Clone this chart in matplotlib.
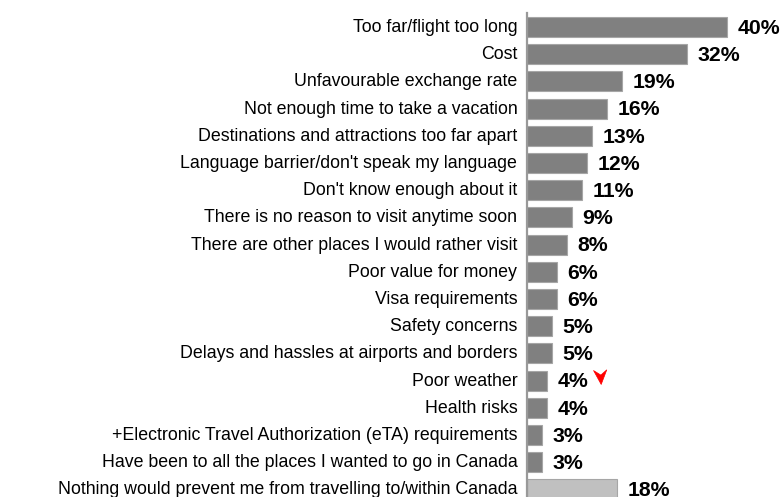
import numpy as np
import matplotlib
matplotlib.use("Agg")
import matplotlib.pyplot as plt
from matplotlib.path import Path
from matplotlib.transforms import ScaledTranslation

plt.rcParams['font.family'] = ['Liberation Sans', 'DejaVu Sans']

reasons = [
    "Too far/flight too long",
    "Cost",
    "Unfavourable exchange rate",
    "Not enough time to take a vacation",
    "Destinations and attractions too far apart",
    "Language barrier/don't speak my language",
    "Don't know enough about it",
    "There is no reason to visit anytime soon",
    "There are other places I would rather visit",
    "Poor value for money",
    "Visa requirements",
    "Safety concerns",
    "Delays and hassles at airports and borders",
    "Poor weather",
    "Health risks",
    "+Electronic Travel Authorization (eTA) requirements",
    "Have been to all the places I wanted to go in Canada",
    "Nothing would prevent me from travelling to/within Canada",
]
shares = [40, 32, 19, 16, 13, 12, 11, 9, 8, 6, 6, 5, 5, 4, 4, 3, 3, 18]
flagged = "Poor weather"

W, H = 782, 497
fig = plt.figure(figsize=(W / 100, H / 100), dpi=100)
ax = fig.add_axes([527 / W, 0, 1 - 527 / W, 1])

y = np.arange(len(reasons))
colors = ['#808080'] * (len(reasons) - 1) + ['#c0c0c0']
ax.barh(y, shares, height=0.735, color=colors, edgecolor='#a6a6a6', linewidth=0.8)

for yi, v in zip(y, shares):
    ax.annotate(f"{v}%", (v, yi), xytext=(7.5, -1), textcoords='offset points',
                ha='left', va='center', fontsize=15.3, fontweight='bold', color='black')

# small red arrow beside the flagged value
arrow = Path([(-1, 1), (0.1, -1), (0.9, 1.1), (0.05, 0.35), (-1, 1)],
             [Path.MOVETO, Path.LINETO, Path.LINETO, Path.LINETO, Path.CLOSEPOLY])
fi = reasons.index(flagged)
ax.plot([shares[fi]], [fi], linestyle='none', marker=arrow, markersize=11,
        color='red', markeredgewidth=0.5,
        transform=ax.transData + ScaledTranslation(53 / 100, 4 / 100, fig.dpi_scale_trans))

ax.set_xlim(0, (W - 527) / 5)
top = -27 / 27.2
bottom = (H - 27) / 27.2
ax.set_ylim(bottom, top)

ax.set_yticks(y)
ax.set_yticklabels(reasons, fontsize=12.8)
ax.tick_params(axis='y', length=0, pad=7)
# labels sit a touch above bar centres
for lbl in ax.get_yticklabels():
    lbl.set_transform(lbl.get_transform() + ScaledTranslation(0, 1.5 / 100, fig.dpi_scale_trans))
ax.set_xticks([])
for s in ['top', 'right', 'bottom']:
    ax.spines[s].set_visible(False)
ax.spines['left'].set_color('#999999')
ax.spines['left'].set_linewidth(1.6)
ax.spines['left'].set_bounds(-0.5, bottom)

fig.savefig("out.png", dpi=100)
